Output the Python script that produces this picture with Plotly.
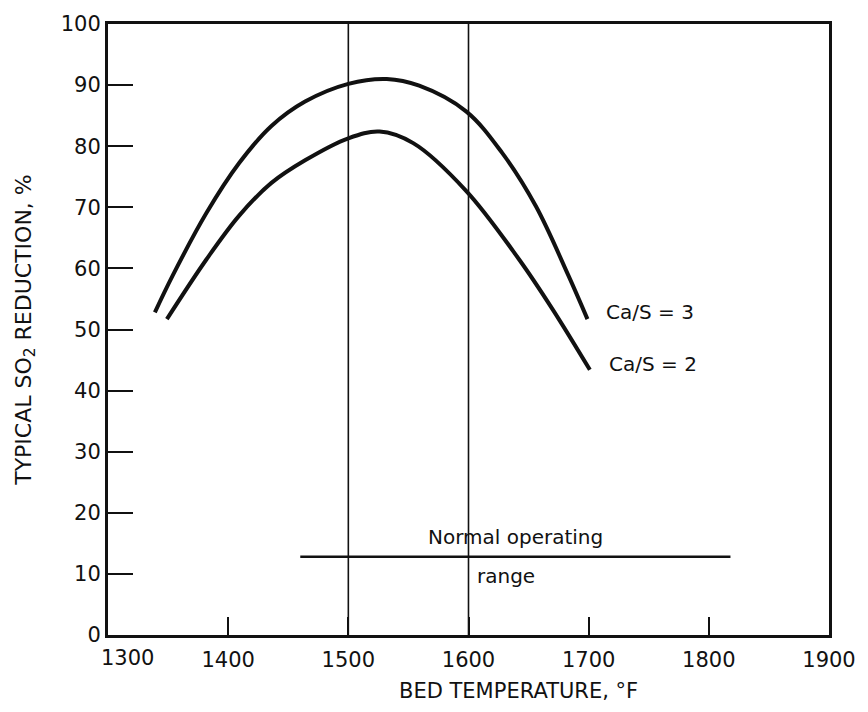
import plotly.graph_objects as go

# Bed temperature (deg F) and typical SO2 reduction (%) for two Ca/S ratios
temp_ca3 = [1339, 1354, 1382, 1409, 1436, 1464, 1500, 1532, 1559, 1598, 1628, 1656, 1683, 1699]
so2_ca3 = [52.8, 58.9, 69.1, 77.2, 83.3, 87.3, 90.2, 91.0, 89.9, 85.7, 78.9, 70.2, 58.9, 51.7]

temp_ca2 = [1349, 1382, 1409, 1436, 1464, 1500, 1526, 1554, 1598, 1642, 1670, 1701]
so2_ca2 = [51.7, 61.5, 68.6, 74.0, 77.7, 81.3, 82.4, 80.5, 72.7, 61.5, 53.3, 43.4]

curve_labels = ["Ca/S = 3", "Ca/S = 2"]

# Normal operating range bar and the 1500/1600 F guide lines
range_temp = [1460, 1818]
range_level = 12.8
guide_temps = [1500, 1600]

x_ticks = [1300, 1400, 1500, 1600, 1700, 1800, 1900]
y_ticks = [0, 10, 20, 30, 40, 50, 60, 70, 80, 90, 100]

INK = "#111111"
FONT = "DejaVu Sans"

fig = go.Figure()

for t, v in [(temp_ca3, so2_ca3), (temp_ca2, so2_ca2)]:
    fig.add_trace(go.Scatter(
        x=t, y=v, mode="lines",
        line=dict(color=INK, width=4, shape="spline", smoothing=1.0),
        hoverinfo="skip", showlegend=False,
    ))

fig.add_trace(go.Scatter(
    x=range_temp, y=[range_level, range_level], mode="lines",
    line=dict(color=INK, width=2.5),
    hoverinfo="skip", showlegend=False,
))

for g in guide_temps:
    fig.add_shape(type="line", xref="x", yref="paper", x0=g, x1=g, y0=0, y1=1,
                  line=dict(color=INK, width=1.6))

# Curve labels placed just right of each curve's end point
for t, v, lab, dy in [(temp_ca3, so2_ca3, curve_labels[0], 1.1), (temp_ca2, so2_ca2, curve_labels[1], 1.0)]:
    fig.add_annotation(x=t[-1] + 14, y=v[-1] + dy, text=lab, showarrow=False,
                       xanchor="left", yanchor="middle",
                       font=dict(family=FONT, size=20, color=INK))

mid = (range_temp[0] + range_temp[1]) / 2
fig.add_annotation(x=mid, y=range_level + 1.0, text="Normal operating", showarrow=False,
                   xanchor="center", yanchor="bottom",
                   font=dict(family=FONT, size=20, color=INK))
fig.add_annotation(x=mid - 8, y=range_level - 0.9, text="range", showarrow=False,
                   xanchor="center", yanchor="top",
                   font=dict(family=FONT, size=20, color=INK))

# The first x tick label sits a little right of its tick, clear of the "0"
fig.add_annotation(x=x_ticks[0], y=0, text=str(x_ticks[0]), showarrow=False,
                   xanchor="center", yanchor="top", xshift=19, yshift=-9,
                   font=dict(family=FONT, size=21, color=INK))

fig.update_xaxes(
    range=[1300, 1900], tickvals=x_ticks[1:], ticktext=[str(v) for v in x_ticks[1:]],
    ticks="inside", ticklen=18, tickwidth=2, tickcolor=INK,
    showline=True, linewidth=3, linecolor=INK, mirror=True,
    showgrid=False, zeroline=False, ticklabelstandoff=4,
    tickfont=dict(family=FONT, size=21, color=INK),
)
fig.update_yaxes(
    range=[0, 100], tickvals=y_ticks,
    ticks="inside", ticklen=25, tickwidth=2, tickcolor=INK,
    showline=True, linewidth=3, linecolor=INK, mirror=True,
    showgrid=False, zeroline=False,
    tickfont=dict(family=FONT, size=21, color=INK),
    title=dict(text="TYPICAL SO<sub>2</sub> REDUCTION, %", font=dict(family=FONT, size=22, color=INK), standoff=24),
)

# Horizontal axis title
fig.add_annotation(xref="paper", yref="paper", x=0.57, y=0, yshift=-56,
                   text="BED TEMPERATURE, °F", showarrow=False,
                   xanchor="center", yanchor="middle",
                   font=dict(family=FONT, size=21, color=INK))

fig.update_layout(
    width=868, height=712,
    margin=dict(l=108, r=32, t=20, b=77),
    paper_bgcolor="white", plot_bgcolor="white",
    showlegend=False,
)

fig.write_html("out.html")
